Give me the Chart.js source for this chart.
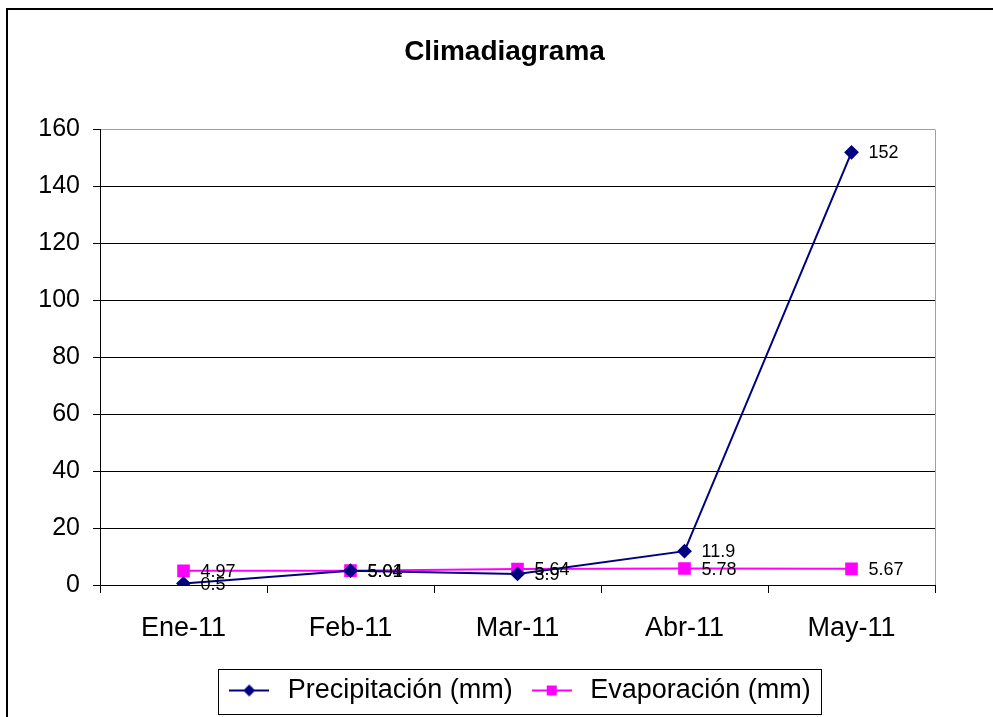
<!DOCTYPE html>
<html>
<head>
<meta charset="utf-8">
<script src="https://cdn.jsdelivr.net/npm/chart.js@4.4.1/dist/chart.umd.min.js"></script>
<style>
  html, body { margin: 0; padding: 0; background: #fff; }
</style>
</head>
<body>
<canvas id="climaChart" width="993" height="717"></canvas>
<script>
// Datos del climadiagrama
const meses = ['Ene-11', 'Feb-11', 'Mar-11', 'Abr-11', 'May-11'];
const precipitacion = [0.5, 5.01, 3.9, 11.9, 152];
const evaporacion = [4.97, 5.04, 5.64, 5.78, 5.67];
const yMin = 0;
const yMax = 160;
const yPaso = 20;

const FUENTE = '"Liberation Sans", Arial, sans-serif';

// Icono de leyenda: linea con marcador en el centro
function iconoLeyenda(color, forma) {
    const c = document.createElement('canvas');
    c.width = 40;
    c.height = 14;
    const g = c.getContext('2d');
    g.strokeStyle = color;
    g.lineWidth = 2;
    g.beginPath();
    g.moveTo(0, 7);
    g.lineTo(40, 7);
    g.stroke();
    g.fillStyle = color;
    g.beginPath();
    if (forma === 'rombo') {
        g.moveTo(20, 1);
        g.lineTo(26, 7);
        g.lineTo(20, 13);
        g.lineTo(14, 7);
    } else {
        g.rect(15, 2, 10, 10);
    }
    g.closePath();
    g.fill();
    return c;
}

// Etiquetas de valores a la derecha de cada punto
const etiquetasPlugin = {
    id: 'etiquetas',
    afterDatasetsDraw(chart) {
        const ctx = chart.ctx;
        ctx.save();
        ctx.font = '18px ' + FUENTE;
        ctx.fillStyle = '#000';
        ctx.textBaseline = 'middle';
        ctx.textAlign = 'left';
        chart.data.datasets.forEach((ds, i) => {
            chart.getDatasetMeta(i).data.forEach((pt, j) => {
                ctx.fillText(String(ds.data[j]), pt.x + 17, pt.y + 1);
            });
        });
        ctx.restore();
    }
};

// Marco exterior, borde del area del grafico y caja de la leyenda
const marcoPlugin = {
    id: 'marco',
    beforeDraw(chart) {
        const ctx = chart.ctx;
        ctx.save();
        ctx.fillStyle = '#fff';
        ctx.fillRect(0, 0, chart.width, chart.height);
        ctx.strokeStyle = '#000';
        ctx.lineWidth = 2;
        ctx.strokeRect(7, 9, chart.width + 20, chart.height + 20);
        ctx.restore();
    },
    afterDraw(chart) {
        const ctx = chart.ctx;
        const area = chart.chartArea;
        ctx.save();
        ctx.strokeStyle = '#a0a0a0';
        ctx.lineWidth = 1;
        ctx.beginPath();
        ctx.moveTo(Math.round(area.right) + 0.5, area.top);
        ctx.lineTo(Math.round(area.right) + 0.5, area.bottom);
        ctx.stroke();

        const cajas = chart.legend.legendHitBoxes;
        if (cajas && cajas.length) {
            const izq = cajas[0].left - 6;
            const ultima = cajas[cajas.length - 1];
            const der = ultima.left + ultima.width + 10;
            const centro = cajas[0].top + cajas[0].height / 2;
            ctx.strokeStyle = '#000';
            ctx.strokeRect(Math.round(izq) + 0.5, Math.round(centro - 22) + 0.5,
                Math.round(der - izq), 45);
        }
        ctx.restore();
    }
};

const ctx = document.getElementById('climaChart').getContext('2d');

new Chart(ctx, {
    type: 'line',
    data: {
        labels: meses,
        datasets: [{
            label: 'Precipitación (mm)',
            data: precipitacion,
            borderColor: '#000080',
            backgroundColor: '#000080',
            borderWidth: 2,
            pointStyle: 'rectRot',
            pointRadius: 6,
            pointHoverRadius: 6,
            tension: 0
        }, {
            label: 'Evaporación (mm)',
            data: evaporacion,
            borderColor: '#ff00ff',
            backgroundColor: '#ff00ff',
            borderWidth: 2,
            pointStyle: 'rect',
            pointRadius: 7.5,
            pointHoverRadius: 7.5,
            tension: 0
        }]
    },
    options: {
        responsive: false,
        animation: false,
        layout: {
            padding: { left: 16, right: 0, top: 0, bottom: 3 }
        },
        plugins: {
            title: {
                display: true,
                text: 'Climadiagrama',
                color: '#000',
                font: { family: FUENTE, size: 28, weight: 'bold' },
                padding: { top: 35, bottom: 61 }
            },
            legend: {
                position: 'bottom',
                fullSize: false,
                labels: {
                    color: '#000',
                    font: { family: FUENTE, size: 27 },
                    usePointStyle: true,
                    pointStyleWidth: 50,
                    padding: 14,
                    generateLabels: function(chart) {
                        const formas = ['rombo', 'cuadrado'];
                        return chart.data.datasets.map((ds, i) => ({
                            text: ds.label,
                            fillStyle: ds.borderColor,
                            strokeStyle: ds.borderColor,
                            pointStyle: iconoLeyenda(ds.borderColor, formas[i]),
                            datasetIndex: i,
                            hidden: false,
                            lineWidth: 0
                        }));
                    }
                }
            },
            tooltip: { enabled: false }
        },
        scales: {
            x: {
                offset: true,
                grid: {
                    offset: true,
                    drawOnChartArea: false,
                    drawTicks: true,
                    tickLength: 8,
                    color: '#000'
                },
                border: { color: '#000', width: 1 },
                ticks: {
                    color: '#000',
                    font: { family: FUENTE, size: 27 },
                    padding: 19,
                    maxRotation: 0
                },
                afterFit: function(scale) {
                    scale.height = 78;
                }
            },
            y: {
                min: yMin,
                max: yMax,
                grid: {
                    color: function(c) {
                        return c.tick && c.tick.value === yMax ? '#a0a0a0' : '#000';
                    },
                    tickColor: '#000',
                    tickLength: 7,
                    lineWidth: 1
                },
                border: { color: '#000', width: 1 },
                ticks: {
                    stepSize: yPaso,
                    color: '#000',
                    font: { family: FUENTE, size: 25 },
                    padding: 13
                },
                afterFit: function(scale) {
                    scale.width = 84;
                }
            },
            // eje vacio a la derecha, solo reserva el margen
            margen: {
                type: 'linear',
                position: 'right',
                min: yMin,
                max: yMax,
                grid: { drawOnChartArea: false, drawTicks: false },
                border: { display: false },
                ticks: { display: false },
                afterFit: function(scale) {
                    scale.width = 58;
                }
            }
        }
    },
    plugins: [marcoPlugin, etiquetasPlugin]
});
</script>
</body>
</html>
